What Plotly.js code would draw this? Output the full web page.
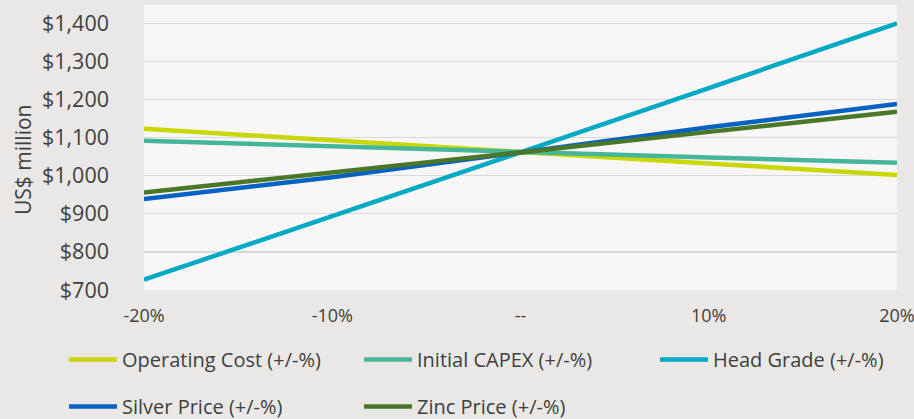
<!DOCTYPE html>
<html>
<head>
<meta charset="utf-8">
<script src="https://cdn.plot.ly/plotly-3.0.1.min.js"></script>
<style>html,body{margin:0;padding:0;background:#EAE8E6;}</style>
</head>
<body>
<div id="chart" style="width:914px;height:419px;"></div>
<script>
const categories = ["-20%", "-10%", "--", "10%", "20%"];
const operatingCost = [1123, 1092, 1061, 1032, 1002];
const initialCapex = [1092, 1077, 1061, 1048, 1034];
const headGrade = [727, 893, 1061, 1230, 1400];
const silverPrice = [939, 996, 1061, 1127, 1188];
const zincPrice = [956, 1008, 1061, 1115, 1168];
const seriesNames = ["Operating Cost (+/-%)", "Initial CAPEX (+/-%)", "Head Grade (+/-%)", "Silver Price (+/-%)", "Zinc Price (+/-%)"];
const yTicks = [700, 800, 900, 1000, 1100, 1200, 1300, 1400];
const yTickLabels = ["$700", "$800", "$900", "$1,000", "$1,100", "$1,200", "$1,300", "$1,400"];
const yAxisTitle = "US$ million";

const colors = ["#CAD600", "#45B69A", "#00AAC5", "#0662C2", "#4A7828"];
const series = [operatingCost, initialCapex, headGrade, silverPrice, zincPrice];
const legendIds = ["legend", "legend2", "legend3", "legend", "legend2"];

const traces = series.map((vals, i) => ({
  x: categories,
  y: vals,
  type: "scatter",
  mode: "lines",
  name: seriesNames[i],
  line: {color: colors[i], width: 4.5},
  legend: legendIds[i],
  legendgroup: "g" + i
}));

const font = {family: "Open Sans, Noto Sans, sans-serif", color: "#404040"};

function legendAt(xpx) {
  return {
    orientation: "v",
    xref: "container",
    yref: "container",
    xanchor: "left",
    yanchor: "top",
    x: xpx / 914,
    y: 1 - 340 / 419,
    itemwidth: 48,
    tracegroupgap: 18,
    bgcolor: "rgba(0,0,0,0)",
    font: Object.assign({}, font, {size: 20}),
    itemclick: false,
    itemdoubleclick: false
  };
}

const plotL = 144, plotR = 897, plotT = 5, plotB = 290;

const layout = {
  width: 914,
  height: 419,
  margin: {l: plotL, r: 914 - plotR, t: plotT, b: 419 - plotB, autoexpand: false},
  paper_bgcolor: "#EAE8E6",
  plot_bgcolor: "#F8F6F6",
  font: font,
  showlegend: true,
  legend: legendAt(64),
  legend2: legendAt(359),
  legend3: legendAt(655),
  xaxis: {
    type: "category",
    range: [0, 4],
    showgrid: false,
    zeroline: false,
    showline: false,
    ticks: "",
    tickfont: Object.assign({}, font, {size: 18}),
    ticklabelstandoff: 13,
    fixedrange: true
  },
  yaxis: {
    range: [700, 1448],
    tickvals: yTicks,
    ticktext: yTickLabels,
    showgrid: true,
    gridcolor: "#D9D9D9",
    gridwidth: 1.3,
    zeroline: false,
    showline: false,
    ticks: "",
    tickfont: Object.assign({}, font, {size: 21.5}),
    ticklabelstandoff: 34,
    fixedrange: true
  },
  annotations: [{
    text: yAxisTitle,
    xref: "paper",
    yref: "paper",
    x: (23 - plotL) / (plotR - plotL),
    y: (plotB - 160) / (plotB - plotT),
    xanchor: "center",
    yanchor: "middle",
    textangle: -90,
    showarrow: false,
    font: Object.assign({}, font, {size: 21})
  }]
};

Plotly.newPlot("chart", traces, layout, {displayModeBar: false, staticPlot: true});
</script>
</body>
</html>
